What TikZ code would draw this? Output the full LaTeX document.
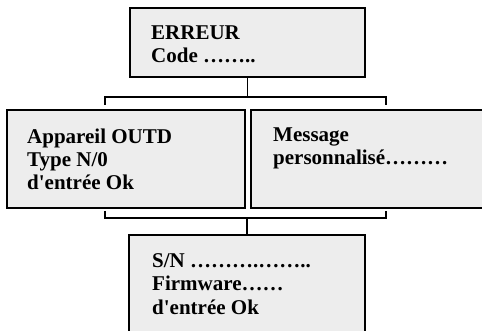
\documentclass[tikz,border=0pt]{standalone}
\usepackage{fontspec}
\setmainfont{Liberation Serif}
\begin{document}
\begin{tikzpicture}[x=1pt,y=-1pt,
  box/.style={draw=black, line width=1.6pt, fill=gray!14, rectangle, inner sep=0pt},
  txt/.style={anchor=base west, align=left, inner sep=0pt, font=\fontsize{21}{23.5}\selectfont\bfseries},
  conn/.style={draw=black, line width=1.3pt}]
\clip (0,0) rectangle (482,331);
\fill[white] (0,0) rectangle (482,331);
% boxes
\node[box, minimum width=235pt, minimum height=69pt] (top) at (247.5,42.5) {};
\node[box, minimum width=238pt, minimum height=98pt] (left) at (126,159) {};
\node[box, minimum width=240pt, minimum height=98pt] (right) at (371,159) {};
\node[box, minimum width=236pt, minimum height=110pt] (bottom) at (247,290) {};
% texts (anchor = baseline of the last line)
\node[txt] (t1) at (151,63) {ERREUR\\Code ……..};
\node[txt] (t2) at (27,190) {Appareil OUTD\\Type N/0\\d\textquotesingle entrée Ok};
\node[txt] (t3) at (273,165) {Message\\personnalisé………};
\node[txt] (t4) at (152,314) {S/N ……….……..\\Firmware……\\d\textquotesingle entrée Ok};
% connectors
\coordinate (j1) at (247.5,97);
\coordinate (tl) at (105,105);
\coordinate (tr) at (386,105);
\draw[conn] (top.south) -- (j1);
\draw[conn] (tl) |- (j1) -| (tr);
\coordinate (j2) at (247,218);
\coordinate (bl) at (105,211);
\coordinate (br) at (386,211);
\draw[conn] (bl) |- (j2) -| (br);
\draw[conn] (j2) -- (bottom.north);
\end{tikzpicture}
\end{document}
